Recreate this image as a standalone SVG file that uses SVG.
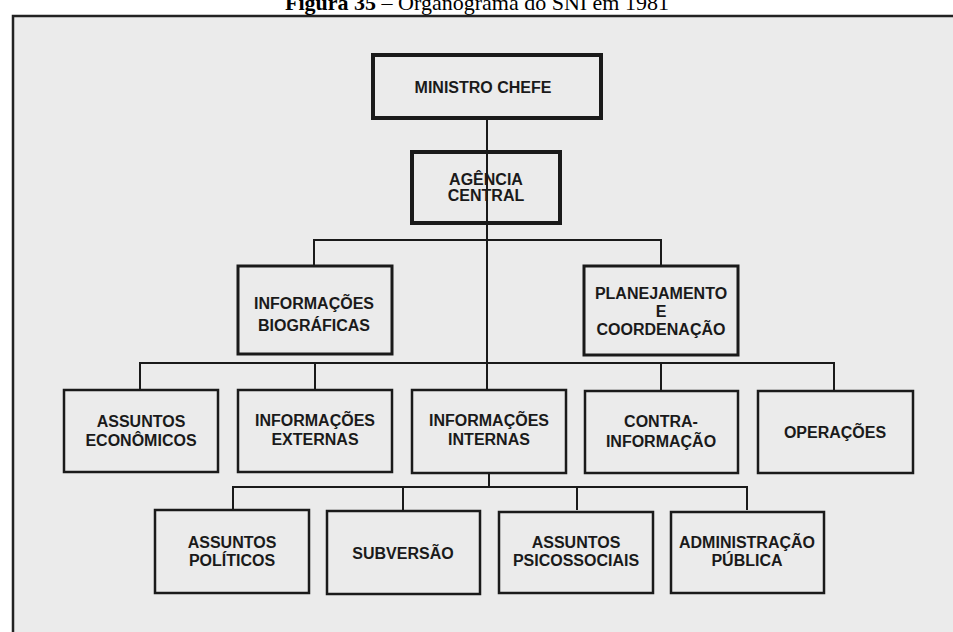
<svg xmlns="http://www.w3.org/2000/svg" width="953" height="632" viewBox="0 0 953 632">
<style>
.box{fill:none;stroke:#1a1a1a;stroke-width:2.5}
.thick{stroke-width:4}
.mid{stroke-width:3}
.t{font-family:"Liberation Sans",Arial,sans-serif;font-weight:bold;font-size:16px;fill:#1a1a1a;text-anchor:middle}
.c{fill:none;stroke:#1a1a1a;stroke-width:2}
</style>
<rect x="0" y="0" width="953" height="632" fill="#ffffff"/>
<rect x="13" y="16" width="960" height="640" fill="#ebebeb" stroke="#222" stroke-width="2.5"/>
<text x="477" y="10" font-family="Liberation Serif,'Times New Roman',serif" font-size="22" text-anchor="middle" fill="#000"><tspan font-weight="bold">Figura 35</tspan> – Organograma do SNI em 1981</text>

<g id="connectors">
<path class="c" d="M487 118V390"/>
<path class="c" d="M314 266V240H661V266"/>
<path class="c" d="M140 390V363H834V390"/>
<path class="c" d="M315 363V390M661 363V390"/>
<path class="c" d="M489 473V487"/>
<path class="c" d="M233 510V487H747V510"/>
<path class="c" d="M403 487V510M577 487V510"/>
</g>

<g id="ministro">
<rect class="box thick" x="373" y="55" width="228" height="63"/>
<text class="t" x="483" y="93">MINISTRO CHEFE</text>
</g>
<g id="agencia">
<rect class="box thick" x="412" y="152" width="148" height="71"/>
<text class="t" x="486" y="185">AGÊNCIA</text>
<text class="t" x="486" y="201">CENTRAL</text>
</g>
<g id="biograficas">
<rect class="box mid" x="238" y="266" width="154" height="88"/>
<text class="t" x="314" y="309">INFORMAÇÕES</text>
<text class="t" x="314" y="331">BIOGRÁFICAS</text>
</g>
<g id="planejamento">
<rect class="box mid" x="584" y="266" width="154" height="89"/>
<text class="t" x="661" y="299">PLANEJAMENTO</text>
<text class="t" x="661" y="317">E</text>
<text class="t" x="661" y="335">COORDENAÇÃO</text>
</g>
<g id="economicos">
<rect class="box" x="64" y="390" width="154" height="82"/>
<text class="t" x="141" y="427">ASSUNTOS</text>
<text class="t" x="141" y="446">ECONÔMICOS</text>
</g>
<g id="externas">
<rect class="box" x="238" y="390" width="154" height="82"/>
<text class="t" x="315" y="426">INFORMAÇÕES</text>
<text class="t" x="315" y="445">EXTERNAS</text>
</g>
<g id="internas">
<rect class="box" x="412" y="390" width="154" height="83"/>
<text class="t" x="489" y="426">INFORMAÇÕES</text>
<text class="t" x="489" y="445">INTERNAS</text>
</g>
<g id="contra">
<rect class="box" x="585" y="391" width="153" height="82"/>
<text class="t" x="661" y="427">CONTRA-</text>
<text class="t" x="661" y="447">INFORMAÇÃO</text>
</g>
<g id="operacoes">
<rect class="box" x="758" y="391" width="155" height="82"/>
<text class="t" x="835" y="438">OPERAÇÕES</text>
</g>
<g id="politicos">
<rect class="box" x="155" y="510" width="154" height="83"/>
<text class="t" x="232" y="548">ASSUNTOS</text>
<text class="t" x="232" y="566">POLÍTICOS</text>
</g>
<g id="subversao">
<rect class="box" x="327" y="511" width="153" height="83"/>
<text class="t" x="403" y="559">SUBVERSÃO</text>
</g>
<g id="psicossociais">
<rect class="box" x="499" y="512" width="154" height="81"/>
<text class="t" x="576" y="548">ASSUNTOS</text>
<text class="t" x="576" y="566">PSICOSSOCIAIS</text>
</g>
<g id="administracao">
<rect class="box" x="671" y="512" width="153" height="81"/>
<text class="t" x="747" y="548">ADMINISTRAÇÃO</text>
<text class="t" x="747" y="566">PÚBLICA</text>
</g>
</svg>
